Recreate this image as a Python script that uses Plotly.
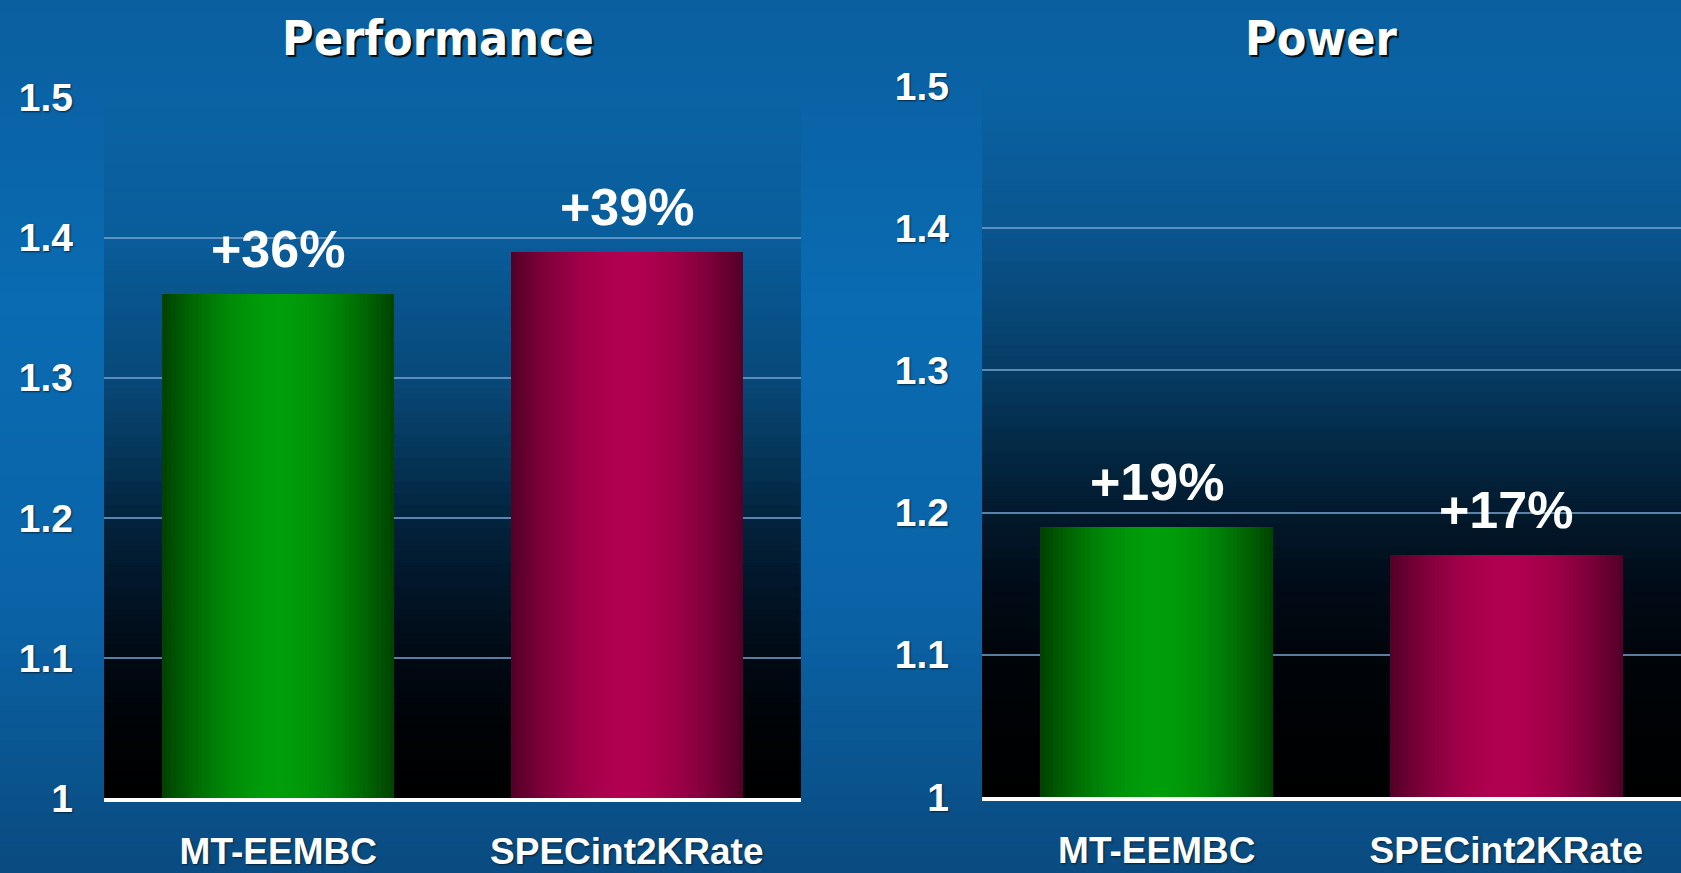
import plotly.graph_objects as go

# ---------------- data ----------------
categories = ["MT-EEMBC", "SPECint2KRate"]
performance = [1.36, 1.39]
power = [1.19, 1.17]
panel_titles = ["Performance", "Power"]
y_tick_vals = [1.0, 1.1, 1.2, 1.3, 1.4, 1.5]
y_tick_text = ["1", "1.1", "1.2", "1.3", "1.4", "1.5"]

# ---------------- styling helpers ----------------
W_PX, H_PX = 1681, 873


def lerp(c1, c2, t):
    return tuple(int(round(a + (b - a) * t)) for a, b in zip(c1, c2))


def hex2rgb(h):
    h = h.lstrip("#")
    return tuple(int(h[i:i + 2], 16) for i in (0, 2, 4))


def scale_color(stops, t):
    for (t0, c0), (t1, c1) in zip(stops, stops[1:]):
        if t0 <= t <= t1:
            return lerp(hex2rgb(c0), hex2rgb(c1), (t - t0) / (t1 - t0) if t1 > t0 else 0)
    return hex2rgb(stops[-1][1])


def rgb(c):
    return "rgb(%d,%d,%d)" % c


paper_stops = [(0.0, "#0a5f9f"), (0.35, "#0a6bb2"), (0.7, "#0a63a6"), (1.0, "#0a4b80")]
left_stops = [(0.0, "#0b63a3"), (0.2, "#0a5d9b"), (0.4, "#08497a"), (0.5, "#06385c"),
              (0.6, "#03243e"), (0.7, "#021628"), (0.8, "#010a14"), (0.9, "#000306"), (1.0, "#000000")]
right_stops = [(0.0, "#0a63a4"), (0.2, "#0a5690"), (0.4, "#063c64"), (0.5, "#042b48"),
               (0.6, "#021a2e"), (0.7, "#010c18"), (0.8, "#00050b"), (0.9, "#000204"), (1.0, "#000000")]

shapes = []
NB = 60
for i in range(NB):
    t = (i + 0.5) / NB
    shapes.append(dict(type="rect", xref="paper", yref="paper", x0=0, x1=1,
                       y0=1 - (i + 1) / NB, y1=1 - i / NB + 0.002,
                       fillcolor=rgb(scale_color(paper_stops, t)), line_width=0, layer="below"))
for ax, stops in (("", left_stops), ("2", right_stops)):
    for i in range(NB):
        t = (i + 0.5) / NB
        shapes.append(dict(type="rect", xref="x%s domain" % ax, yref="y%s domain" % ax, x0=0, x1=1,
                           y0=1 - (i + 1) / NB, y1=min(1.0, 1 - i / NB + 0.002),
                           fillcolor=rgb(scale_color(stops, t)), line_width=0, layer="below"))

# ---------------- bars (layered for a horizontal shading) ----------------
BAR_W = 0.666
N_LAYERS = 26
green_bright, green_dark = (0, 158, 10), (0, 68, 0)
red_bright, red_dark = (178, 0, 80), (84, 0, 40)

fig = go.Figure()
for values, xa, ya in ((performance, "x", "y"), (power, "x2", "y2")):
    for k in range(N_LAYERS):
        d = 1 - k / N_LAYERS
        f = 1 - d ** 1.8
        cols = [rgb(lerp(green_dark, green_bright, f)), rgb(lerp(red_dark, red_bright, f))]
        fig.add_trace(go.Bar(x=categories, y=values, width=[BAR_W * d] * len(values),
                             marker=dict(color=cols, line_width=0),
                             xaxis=xa, yaxis=ya, showlegend=False, hoverinfo="skip"))

# ---------------- annotations ----------------
annotations = []
for values, xa, ya in ((performance, "x", "y"), (power, "x2", "y2")):
    for c, v in zip(categories, values):
        annotations.append(dict(x=c, y=v, xref=xa, yref=ya, text="+%d%%" % round((v - 1) * 100),
                                showarrow=False, yanchor="middle", yshift=45,
                                font=dict(family="Liberation Sans, Arial, sans-serif", size=52,
                                          color="white", weight="bold")))
title_font = dict(family="'DejaVu Sans Condensed', 'DejaVu Sans', sans-serif", size=48,
                  color="white", weight="bold", shadow="2px 2px 1px rgba(0,0,0,0.85)")
for txt, xpx in zip(panel_titles, (438, 1321)):
    annotations.append(dict(x=xpx / W_PX, y=1 - 38 / H_PX, xref="paper", yref="paper", text=txt,
                            showarrow=False, xanchor="center", yanchor="middle", font=title_font))

tick_font = dict(family="Liberation Sans, Arial, sans-serif", size=39, color="white", weight="bold",
                 shadow="1px 1px 2px rgba(0,0,0,0.6)")
cat_font = dict(family="Liberation Sans, Arial, sans-serif", size=37, color="white", weight="bold",
                shadow="1px 1px 2px rgba(0,0,0,0.6)")

xaxis_common = dict(type="category", showgrid=False, zeroline=False, showline=True,
                    linecolor="white", linewidth=4, ticks="", tickfont=cat_font,
                    ticklabelstandoff=18, fixedrange=True, automargin=False)
yaxis_common = dict(range=[1.0, 1.5], tickvals=y_tick_vals, ticktext=y_tick_text,
                    showgrid=True, gridcolor="rgba(120,165,210,0.75)", gridwidth=2,
                    zeroline=False, showline=False, ticks="", tickfont=tick_font,
                    fixedrange=True, automargin=False)

fig.update_layout(
    width=W_PX, height=H_PX,
    margin=dict(l=0, r=0, t=0, b=0, pad=0, autoexpand=False),
    paper_bgcolor="#0a66aa", plot_bgcolor="rgba(0,0,0,0)",
    barmode="overlay", bargap=0,
    showlegend=False,
    shapes=shapes, annotations=annotations,
    xaxis=dict(domain=[104 / W_PX, 801 / W_PX], anchor="y", **xaxis_common),
    yaxis=dict(domain=[(H_PX - 798) / H_PX, (H_PX - 97.7) / H_PX], anchor="x",
               ticklabelstandoff=30, **yaxis_common),
    xaxis2=dict(domain=[982 / W_PX, 1.0], anchor="y2", **xaxis_common),
    yaxis2=dict(domain=[(H_PX - 797) / H_PX, (H_PX - 86) / H_PX], anchor="x2",
                ticklabelstandoff=32, **yaxis_common),
)

fig.write_html("out.html", config={"displayModeBar": False},
               post_script="document.body.style.margin='0';document.body.style.overflow='hidden';")
